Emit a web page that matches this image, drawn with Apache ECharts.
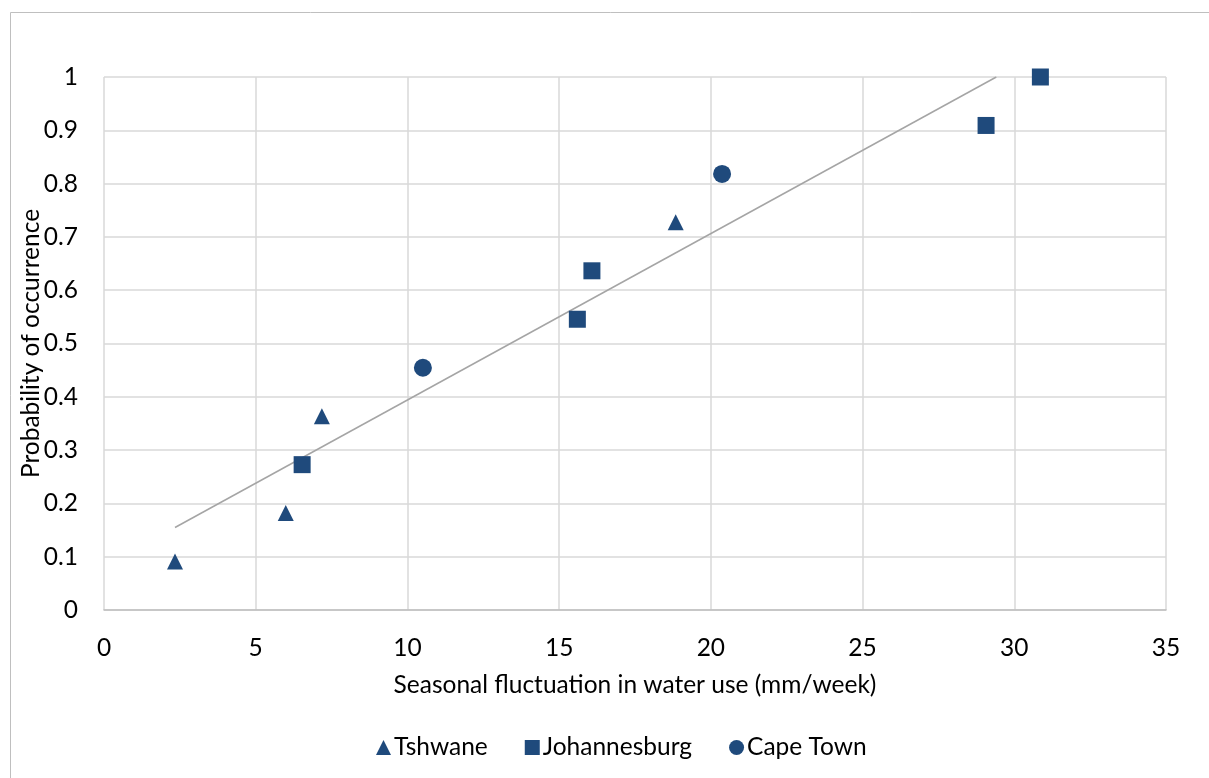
<!DOCTYPE html>
<html>
<head>
<meta charset="utf-8">
<script src="https://cdn.jsdelivr.net/npm/echarts@6/dist/echarts.min.js"></script>
<style>html,body{margin:0;padding:0;background:#fff}#c{width:1209px;height:778px}</style>
</head>
<body>
<div id="c"></div>
<script>
const seriesNames = ['Tshwane', 'Johannesburg', 'Cape Town'];
const tshwaneX = [2.34, 5.99, 7.18, 18.84];
const tshwaneY = [0.0909, 0.1818, 0.3636, 0.7273];
const johannesburgX = [6.53, 15.6, 16.08, 29.07, 30.86];
const johannesburgY = [0.2727, 0.5455, 0.6364, 0.9091, 1.0];
const capeTownX = [10.51, 20.37];
const capeTownY = [0.4545, 0.8182];
const xTicks = [0, 5, 10, 15, 20, 25, 30, 35];
const yTicks = [0, 0.1, 0.2, 0.3, 0.4, 0.5, 0.6, 0.7, 0.8, 0.9, 1];

const zip = (xs, ys) => xs.map((x, i) => [x, ys[i]]);
const allX = tshwaneX.concat(johannesburgX, capeTownX);
const allY = tshwaneY.concat(johannesburgY, capeTownY);
// least-squares linear trendline over all points
const n = allX.length;
const mx = allX.reduce((a, b) => a + b, 0) / n;
const my = allY.reduce((a, b) => a + b, 0) / n;
let sxy = 0, sxx = 0;
for (let i = 0; i < n; i++) { sxy += (allX[i] - mx) * (allY[i] - my); sxx += (allX[i] - mx) ** 2; }
const slope = sxy / sxx, icpt = my - slope * mx;
const yMax = yTicks[yTicks.length - 1];
const tx0 = Math.min(...allX);
const tx1 = Math.min(Math.max(...allX), (yMax - icpt) / slope);
const trend = [[tx0, icpt + slope * tx0], [tx1, icpt + slope * tx1]];

const color = '#1F4A7C';
const font = 'Lato, "Open Sans", sans-serif';
const fs = 24.5;
const chart = echarts.init(document.getElementById('c'), null, {renderer: 'canvas'});
chart.setOption({
  animation: false,
  backgroundColor: '#fff',
  graphic: [{type: 'rect', shape: {x: 10.5, y: 12.5, width: 1300, height: 900},
    style: {fill: 'none', stroke: '#bfbfbf', lineWidth: 1}, silent: true, z: -1}],
  grid: {left: 104, right: 43, top: 77, bottom: 168, containLabel: false},
  legend: {
    data: [
      {name: seriesNames[0], icon: 'triangle'},
      {name: seriesNames[1], icon: 'rect'},
      {name: seriesNames[2], icon: 'circle'}
    ],
    bottom: 13, left: 371, itemWidth: 15, itemHeight: 15, itemGap: 37,
    itemStyle: {opacity: 1},
    textStyle: {fontFamily: font, fontSize: fs, color: '#000', padding: [0, 0, 0, -2]}
  },
  xAxis: {
    type: 'value', min: xTicks[0], max: xTicks[xTicks.length - 1], interval: 5,
    name: 'Seasonal fluctuation in water use (mm/week)', nameLocation: 'middle', nameGap: 63,
    nameMoveOverlap: false,
    nameTextStyle: {fontFamily: font, fontSize: fs, color: '#000'},
    axisLine: {show: true, lineStyle: {color: '#bfbfbf', width: 1.5}},
    axisTick: {show: false},
    axisLabel: {margin: 26, fontFamily: font, fontSize: fs, color: '#000'},
    splitLine: {show: true, lineStyle: {color: '#d9d9d9', width: 1.5}}
  },
  yAxis: {
    type: 'value', min: yTicks[0], max: yMax, interval: 0.1,
    name: 'Probability of occurrence', nameLocation: 'middle', nameGap: 60, nameRotate: 90,
    nameMoveOverlap: false,
    nameTextStyle: {fontFamily: font, fontSize: fs, color: '#000'},
    axisLine: {show: false}, axisTick: {show: false},
    axisLabel: {margin: 26, fontFamily: font, fontSize: fs, color: '#000',
      formatter: v => String(Math.round(v * 10) / 10)},
    splitLine: {show: true, lineStyle: {color: '#d9d9d9', width: 1.5}}
  },
  series: [
    {name: seriesNames[0], type: 'scatter', symbol: 'triangle', symbolSize: 16,
     itemStyle: {color: color, opacity: 1}, data: zip(tshwaneX, tshwaneY), z: 3},
    {name: seriesNames[1], type: 'scatter', symbol: 'rect', symbolSize: 17,
     itemStyle: {color: color, opacity: 1}, data: zip(johannesburgX, johannesburgY), z: 3},
    {name: seriesNames[2], type: 'scatter', symbol: 'circle', symbolSize: 18,
     itemStyle: {color: color, opacity: 1}, data: zip(capeTownX, capeTownY), z: 3},
    {name: 'trend', type: 'line', data: trend, symbol: 'none', silent: true,
     lineStyle: {color: '#a5a5a5', width: 1.5}, z: 2}
  ]
});
</script>
</body>
</html>
